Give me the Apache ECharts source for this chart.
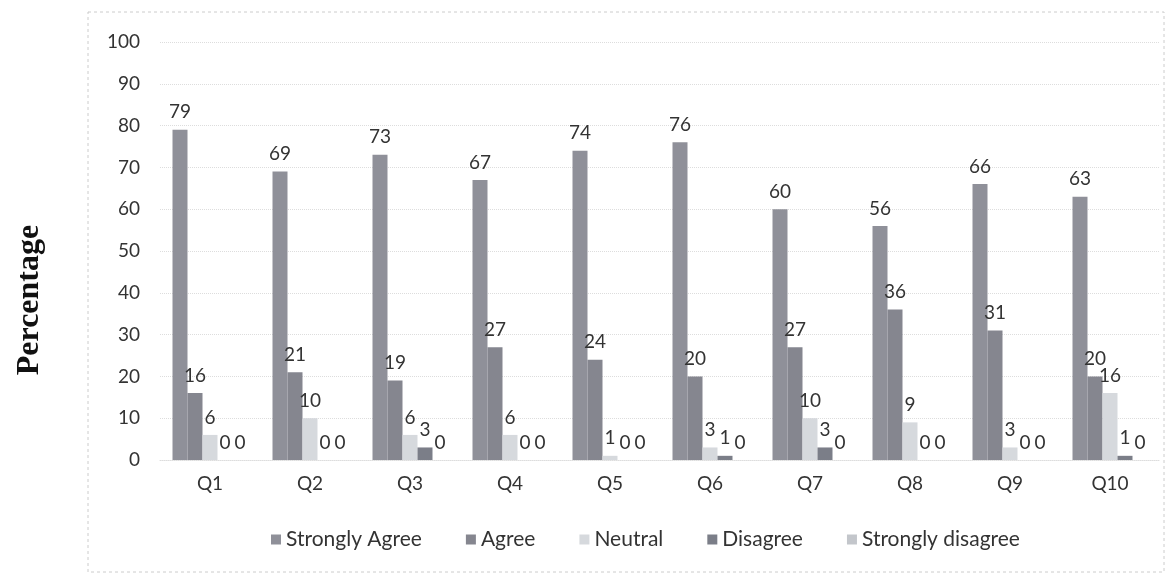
<!DOCTYPE html>
<html>
<head>
<meta charset="utf-8">
<script src="https://cdn.jsdelivr.net/npm/echarts@6/dist/echarts.min.js"></script>
<style>
  html, body { margin: 0; padding: 0; background: #fff; }
  #chart { width: 1166px; height: 575px; }
</style>
</head>
<body>
<div id="chart"></div>
<script>
const categories = ['Q1', 'Q2', 'Q3', 'Q4', 'Q5', 'Q6', 'Q7', 'Q8', 'Q9', 'Q10']
const stronglyAgree = [79, 69, 73, 67, 74, 76, 60, 56, 66, 63]
const agree = [16, 21, 19, 27, 24, 20, 27, 36, 31, 20]
const neutral = [6, 10, 6, 6, 1, 3, 10, 9, 3, 16]
const disagree = [0, 0, 3, 0, 0, 1, 3, 0, 0, 1]
const stronglyDisagree = [0, 0, 0, 0, 0, 0, 0, 0, 0, 0]
const yTicks = [0, 10, 20, 30, 40, 50, 60, 70, 80, 90, 100]

const font = 'Lato, "Open Sans", sans-serif'
const textColor = '#333'

const chart = echarts.init(document.getElementById('chart'))

// one bar series per answer
function bar(name, data, color) {
  return {
    name,
    type: 'bar',
    data,
    barGap: '0%',
    barCategoryGap: '25%',
    itemStyle: { color },
    label: {
      show: true,
      position: 'top',
      distance: 8,
      color: textColor,
      fontFamily: font,
      fontSize: 19
    }
  }
}

const option = {
  animation: false,
  backgroundColor: '#fff',
  grid: {
    left: 160,
    right: 6,
    top: 42,
    bottom: 115
  },
  legend: {
    bottom: 20,
    left: 266,
    itemWidth: 10,
    itemHeight: 10,
    itemGap: 44,
    icon: 'rect',
    textStyle: { color: textColor, fontFamily: font, fontSize: 21 },
    data: ['Strongly Agree', 'Agree', 'Neutral', 'Disagree', 'Strongly disagree']
  },
  xAxis: {
    type: 'category',
    data: categories,
    axisLine: { show: true, lineStyle: { color: '#ddd', type: 'dotted' } },
    axisTick: { show: false },
    axisLabel: { color: textColor, fontFamily: font, fontSize: 19, margin: 14 }
  },
  yAxis: {
    type: 'value',
    min: yTicks[0],
    max: yTicks[yTicks.length - 1],
    interval: 10,
    axisLine: { show: false },
    axisTick: { show: false },
    axisLabel: { color: textColor, fontFamily: font, fontSize: 19, margin: 20 },
    splitLine: { lineStyle: { color: '#ddd', type: 'dotted' } }
  },
  graphic: [
    {
      type: 'rect',
      shape: { x: 88, y: 12, width: 1076, height: 560 },
      style: { fill: 'none', stroke: '#ccc', lineWidth: 1, lineDash: [3, 3] },
      silent: true
    },
    {
      type: 'text',
      x: 30,
      y: 300,
      rotation: Math.PI / 2,
      style: {
        text: 'Percentage',
        fill: '#111',
        font: 'bold 32px "Liberation Serif", "DejaVu Serif", serif',
        align: 'center',
        verticalAlign: 'middle'
      },
      silent: true
    }
  ],
  series: [
    bar('Strongly Agree', stronglyAgree, '#8f9099'),
    bar('Agree', agree, '#85868f'),
    bar('Neutral', neutral, '#d6d9dd'),
    bar('Disagree', disagree, '#7b7e88'),
    bar('Strongly disagree', stronglyDisagree, '#c3c6cb')
  ]
}

chart.setOption(option)
</script>
</body>
</html>
